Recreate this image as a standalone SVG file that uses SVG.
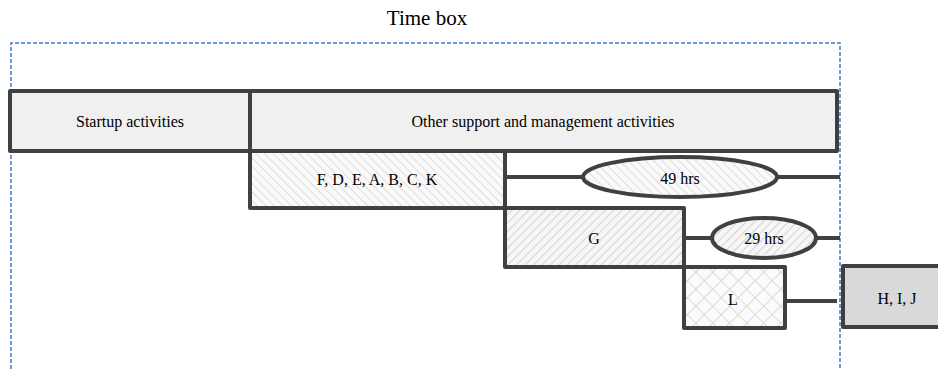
<svg xmlns="http://www.w3.org/2000/svg" width="938" height="369" viewBox="0 0 938 369">
<style>
.box{stroke:#404040;stroke-width:4;stroke-linejoin:round}
.ln{stroke:#404040;stroke-width:4;fill:none}
.t{font-family:"Liberation Serif","Times New Roman",serif;font-size:16px;fill:#000;text-anchor:middle;dominant-baseline:central}
</style>
<defs>
<pattern id="hd" width="6" height="6" patternUnits="userSpaceOnUse" patternTransform="rotate(-45)">
<rect width="6" height="6" fill="#fafafa"/>
<line x1="0" y1="0" x2="0" y2="6" stroke="#d4d4d4" stroke-width="1.5"/>
</pattern>
<pattern id="hu" width="6" height="6" patternUnits="userSpaceOnUse" patternTransform="rotate(45)">
<rect width="6" height="6" fill="#f6f6f6"/>
<line x1="0" y1="0" x2="0" y2="6" stroke="#c8c8c8" stroke-width="1.5"/>
</pattern>
<pattern id="cx" width="12" height="12" patternUnits="userSpaceOnUse" patternTransform="rotate(45)">
<rect width="12" height="12" fill="#fbfbfb"/>
<line x1="0" y1="0" x2="0" y2="12" stroke="#cfcfcf" stroke-width="1.5"/>
<line x1="0" y1="0" x2="12" y2="0" stroke="#cfcfcf" stroke-width="1.5"/>
</pattern>
</defs>
<text x="427" y="25" style="font-family:'Liberation Serif','Times New Roman',serif;font-size:21px;text-anchor:middle;fill:#000">Time box</text>
<path d="M11,369 V43 H840 V369" fill="none" stroke="#3d7bc8" stroke-width="1.5" stroke-dasharray="4,2"/>
<g id="connectors">
<line class="ln" x1="505" y1="177" x2="583" y2="177"/>
<line class="ln" x1="777" y1="177" x2="840" y2="177"/>
<line class="ln" x1="684" y1="238" x2="712" y2="238"/>
<line class="ln" x1="816" y1="238" x2="840" y2="238"/>
<line class="ln" x1="785" y1="301" x2="837" y2="301"/>
</g>
<g id="startup"><rect class="box" x="10" y="91" width="240" height="60" fill="#f0f0f0"/><text class="t" x="130" y="121">Startup activities</text></g>
<g id="other"><rect class="box" x="250" y="91" width="587" height="60" fill="#f0f0f0"/><text class="t" x="543" y="121">Other support and management activities</text></g>
<g id="fdeabck"><rect class="box" x="250" y="151" width="255" height="57" fill="url(#hd)"/><text class="t" x="377" y="179">F, D, E, A, B, C, K</text></g>
<g id="hrs49"><ellipse class="box" cx="680" cy="177" rx="97" ry="20" fill="url(#hd)"/><text class="t" x="680" y="178">49 hrs</text></g>
<g id="g"><rect class="box" x="505" y="208" width="179" height="59" fill="url(#hu)"/><text class="t" x="594" y="238">G</text></g>
<g id="hrs29"><ellipse class="box" cx="764" cy="238" rx="52" ry="20" fill="url(#hu)"/><text class="t" x="764" y="238">29 hrs</text></g>
<g id="l"><rect class="box" x="684" y="267" width="101" height="61" fill="url(#cx)"/><text class="t" x="733" y="299">L</text></g>
<g id="hij"><rect class="box" x="843" y="266" width="100" height="61" fill="#d9d9d9"/><text class="t" x="897" y="298">H, I, J</text></g>
</svg>
